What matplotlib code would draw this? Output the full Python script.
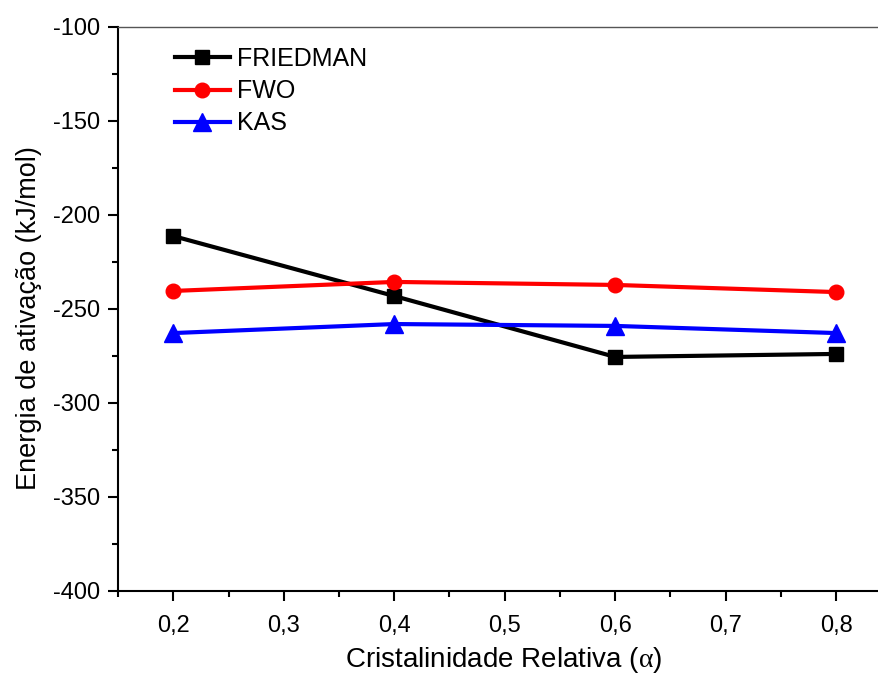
import matplotlib
matplotlib.use("Agg")
import matplotlib.pyplot as plt
from matplotlib.ticker import MultipleLocator, FuncFormatter

x = [0.2, 0.4, 0.6, 0.8]
friedman = [-211.2, -243.1, -275.5, -273.9]
fwo = [-240.4, -235.6, -237.2, -241.0]
kas = [-262.8, -258.0, -259.0, -262.8]

plt.rcParams['font.family'] = ['Liberation Sans', 'DejaVu Sans']
plt.rcParams['mathtext.fontset'] = 'custom'
plt.rcParams['mathtext.rm'] = 'Liberation Serif'
plt.rcParams['mathtext.it'] = 'Liberation Serif'

fig = plt.figure(figsize=(8.79, 6.75), dpi=100)
ax = fig.add_axes([118/879, 84/675, 1 - 118/879, 564/675])

ax.plot(x, friedman, color='black', marker='s', lw=3, ms=9.5, label='FRIEDMAN')
ax.plot(x, fwo, color='red', marker='o', lw=3, ms=10.5, label='FWO')
ax.plot(x, kas, color='blue', marker='^', lw=3, ms=12.5, label='KAS')

ax.set_xlim(0.15, 0.15 + 761/1105)
ax.set_ylim(-400, -100)
ax.xaxis.set_major_locator(MultipleLocator(0.1))
ax.xaxis.set_minor_locator(MultipleLocator(0.05))
ax.yaxis.set_major_locator(MultipleLocator(50))
ax.yaxis.set_minor_locator(MultipleLocator(25))
ax.xaxis.set_major_formatter(FuncFormatter(lambda v, p: f"{v:.1f}".replace('.', ',')))
ax.yaxis.set_major_formatter(FuncFormatter(lambda v, p: f"{v:.0f}"))

ax.tick_params(which='major', direction='out', length=7, width=1.5, labelsize=17)
ax.tick_params(axis='x', which='major', pad=10)
ax.tick_params(axis='y', which='major', pad=6)
ax.tick_params(which='minor', direction='out', length=4, width=1.5)
ax.spines['right'].set_visible(False)
ax.spines['left'].set_linewidth(1.5)
ax.spines['bottom'].set_linewidth(1.5)
ax.spines['top'].set_linewidth(1.0)
ax.spines['top'].set_color('#555555')

ax.set_xlabel(r'Cristalinidade Relativa ($\mathrm{\alpha}$)', fontsize=20, labelpad=6, x=0.507)
ax.set_ylabel('Energia de ativação (kJ/mol)', fontsize=19.5, labelpad=8, y=0.484)

ax.legend(loc='upper left', bbox_to_anchor=(0.048, 1.0), frameon=False, fontsize=18,
          handlelength=2.2, handletextpad=0.3, labelspacing=0.33, borderpad=0.3)

fig.savefig('out.png', dpi=100)
